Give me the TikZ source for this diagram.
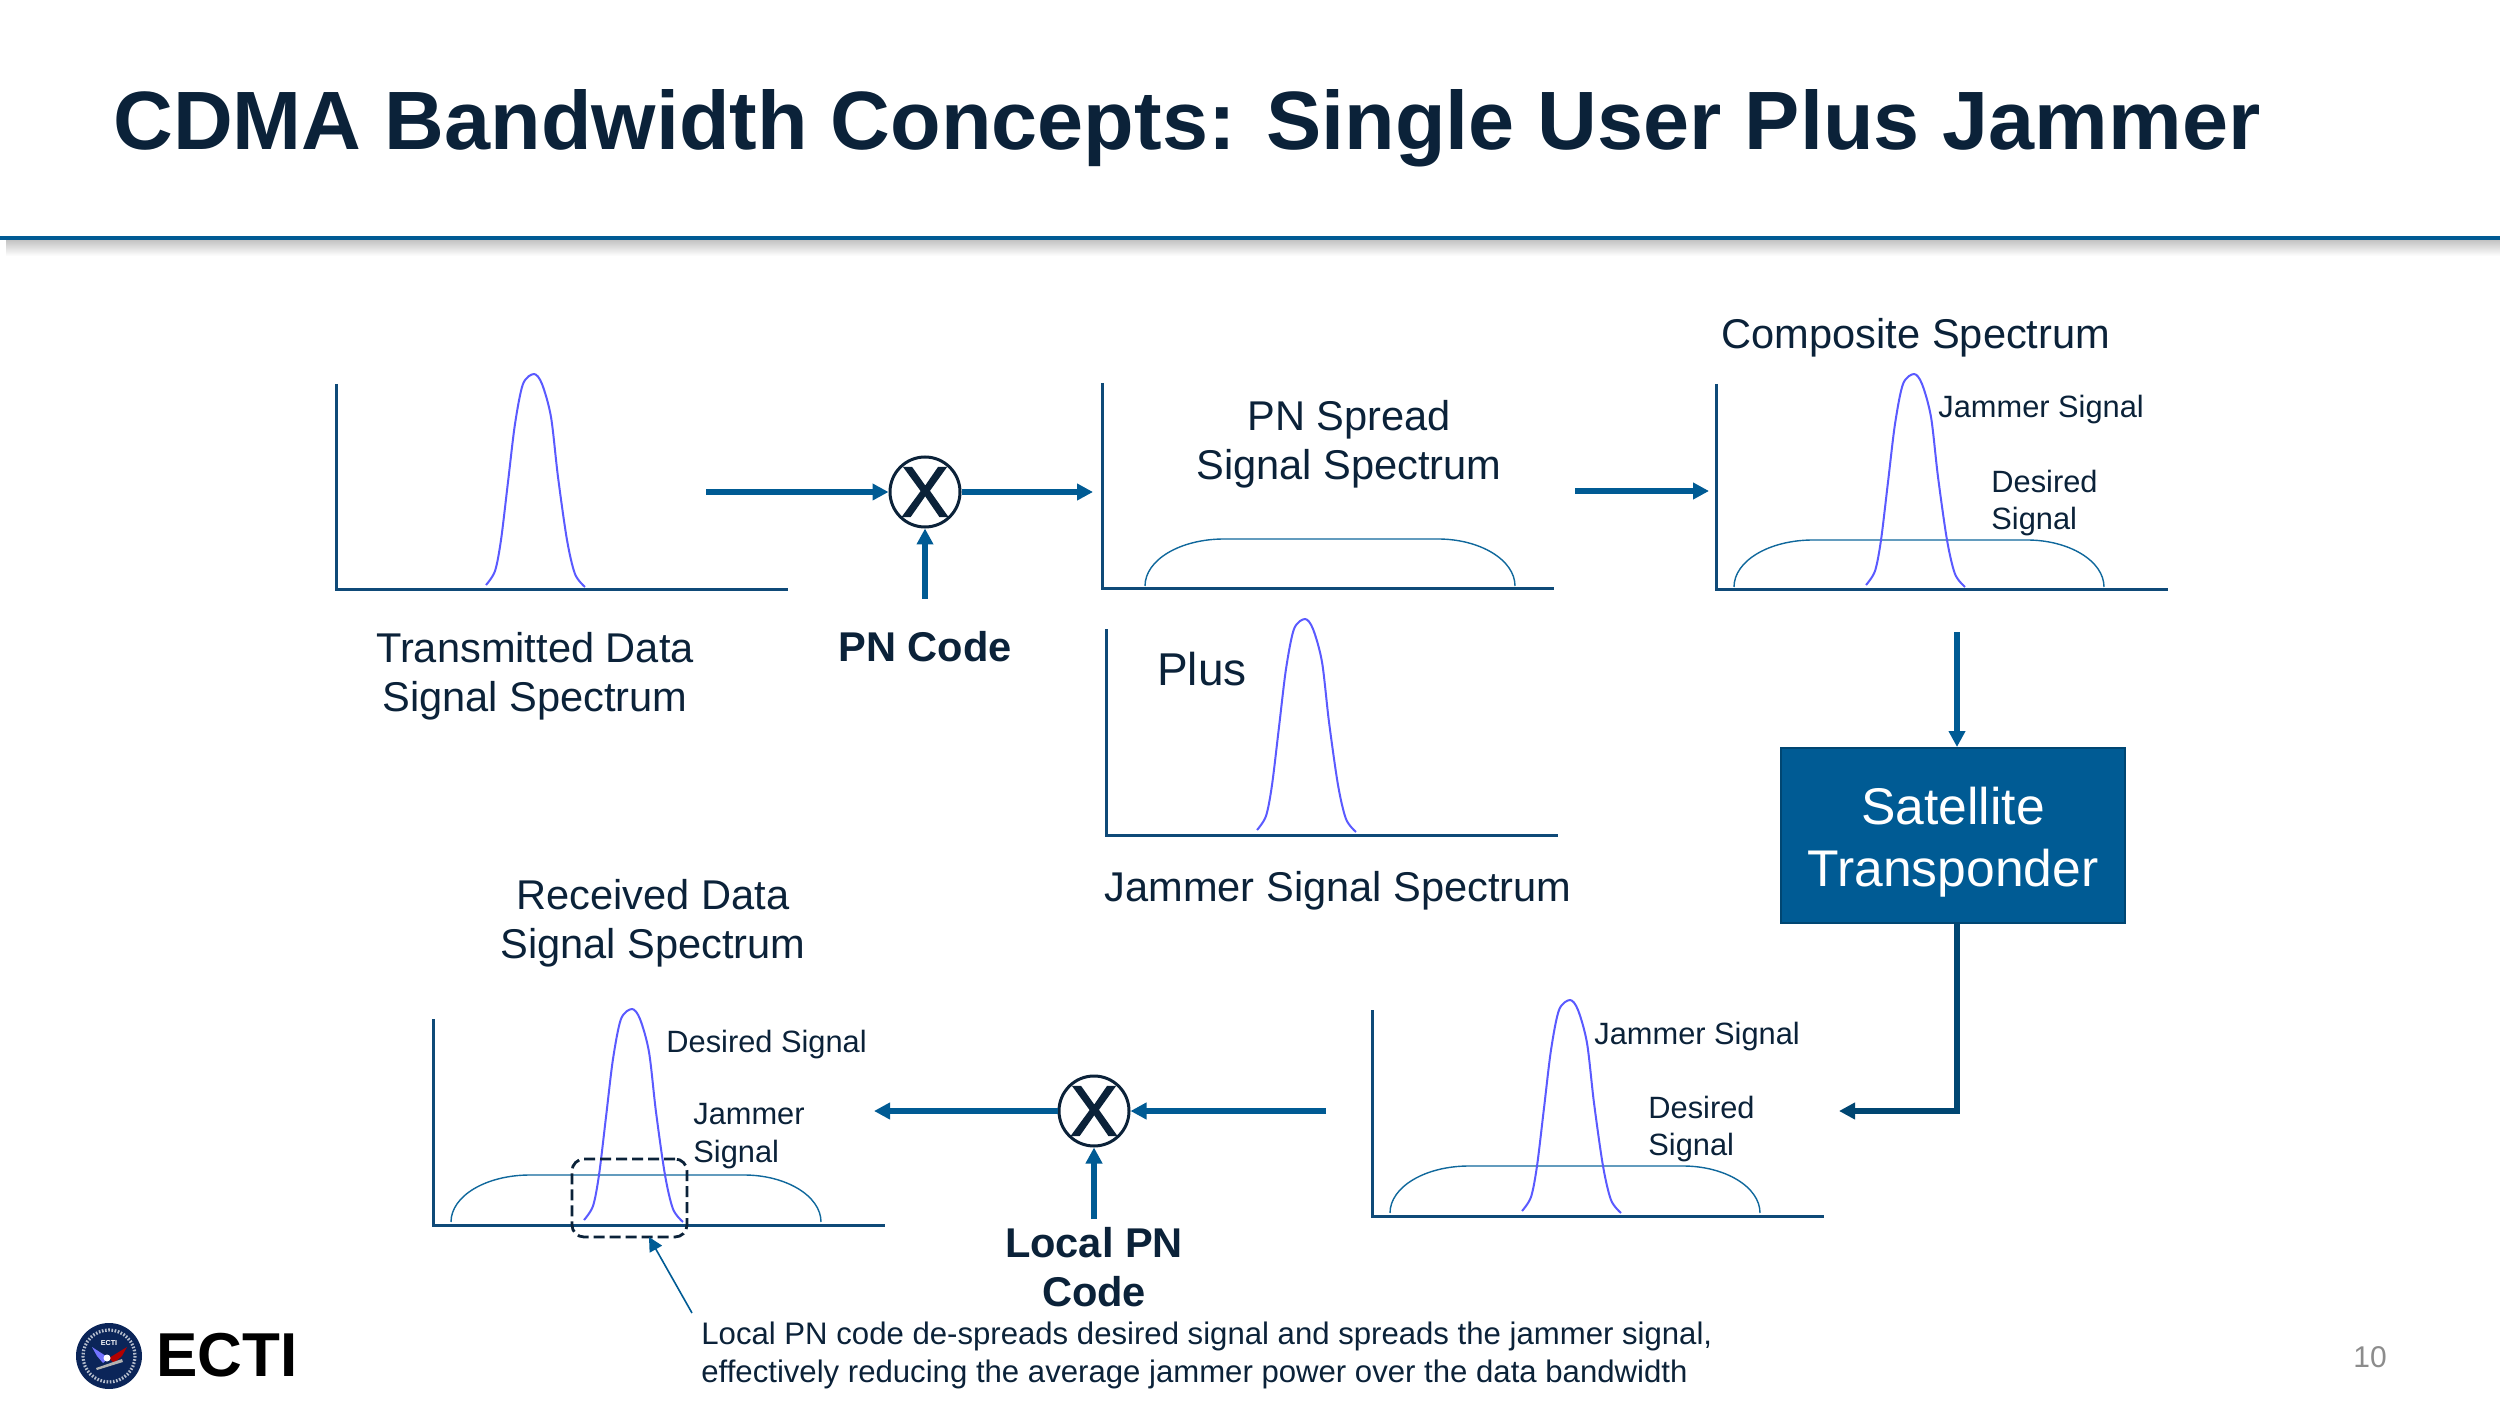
\documentclass[tikz,border=0pt]{standalone}
\usepackage{fontspec}
\setmainfont{Liberation Sans}
\newfontfamily\mixfont[FakeBold=2]{Liberation Sans}
\usetikzlibrary{arrows.meta}
\definecolor{ink}{HTML}{0B2239}
\definecolor{flow}{HTML}{005B94}
\definecolor{flowdark}{HTML}{004672}
\definecolor{axisc}{HTML}{0F4A78}
\definecolor{peakc}{HTML}{5A5AFF}
\definecolor{spreadc}{HTML}{10689C}
\definecolor{pagegrey}{HTML}{8C8C8C}
\definecolor{seal}{HTML}{0B2559}
\tikzset{
  chartaxes/.pic={\draw[axisc,line width=1.5pt,line join=miter] (0,-206) -- (0,0) -- (452,0);},
  peakcurve/.pic={\draw[peakc,line width=1pt,line join=round,tension=0.5] plot[smooth] coordinates {(-48,-5)(-39,-19)(-33,-50)(-26,-108)(-19,-166)(-11,-206)(0,-216)(8,-206)(17,-173)(24,-113)(33,-50)(41,-16)(51,-3)};},
  spreadcurve/.pic={\draw[spreadc,line width=0.7pt] (18,-3) .. controls (18,-29) and (53,-50) .. (97,-50) -- (311,-50) .. controls (353,-50) and (388,-29) .. (388,-3);},
  bigtxt/.style={font=\fontsize{20.8}{24.7}\selectfont,text=ink,align=center,inner sep=0pt},
  bigbold/.style={font=\fontsize{20.8}{24.7}\selectfont\bfseries,text=ink,align=center,inner sep=0pt},
  smalltxt/.style={font=\fontsize{15.4}{18.9}\selectfont,text=ink,align=left,inner sep=0pt,anchor=west},
  mixer/.style={circle,draw=ink,fill=white,line width=1.5pt,minimum size=35pt,inner sep=0pt,text=ink,font=\mixfont\fontsize{35.6}{36}\selectfont},
  flowarrow/.style={draw=flow,line width=2.8pt,-{Triangle[length=8pt,width=8pt,fill=flow]}},
}
\begin{document}
\begin{tikzpicture}[x=0.5pt,y=-0.5pt]
\useasboundingbox (0,0) rectangle (2500,1406);
\fill[white] (0,0) rectangle (2500,1406);
% header
\node[font=\fontsize{41.4}{50}\selectfont\bfseries,text=ink,anchor=west,inner sep=0pt] (title) at (113,128) {CDMA Bandwidth Concepts: Single User Plus Jammer};
\shade[top color=black!22,bottom color=white] (6,241) rectangle (2500,256);
\fill[flow] (0,236) rectangle (2500,240.5);
% charts
\pic at (336,590) {chartaxes};
\pic at (534,590) {peakcurve};
\pic at (1102,589) {chartaxes};
\pic at (1127,589) {spreadcurve};
\pic at (1716,590) {chartaxes};
\pic at (1716,590) {spreadcurve};
\pic at (1914,590) {peakcurve};
\pic at (1106,835) {chartaxes};
\pic at (1305,835) {peakcurve};
\pic at (1372,1216) {chartaxes};
\pic at (1372,1216) {spreadcurve};
\pic at (1570,1216) {peakcurve};
\pic at (433,1225) {chartaxes};
\pic at (433,1225) {spreadcurve};
\pic at (632,1225) {peakcurve};
% dashed region
\node[draw=ink,line width=1.4pt,dash pattern=on 5.5pt off 2.5pt,rounded corners=6pt,minimum width=57.5pt,minimum height=39pt,inner sep=0pt] (region) at (629.5,1198) {};
% mixers
\node[mixer] (mixA) at (925,492) {X};
\node[mixer] (mixB) at (1094,1111) {X};
% transponder
\node[draw=flowdark,fill=flow,line width=1pt,minimum width=172pt,minimum height=87.5pt,inner sep=0pt] (sat) at (1953,835.5) {};
\node[text=white,align=center,inner sep=0pt,font=\fontsize{25.8}{31}\selectfont] (sattxt) at (1953,842) {Satellite\\Transponder};
% flow end points
\coordinate (a1) at (706,492);
\coordinate (a2) at (1093,492);
\coordinate (a3) at (925,599);
\coordinate (a4) at (1575,491);
\coordinate (a5) at (1709,491);
\coordinate (a6) at (1957,632);
\coordinate (a7) at (1957,747);
\coordinate (a8) at (1957,923);
\coordinate (a9) at (1839,1111);
\coordinate (b1) at (1326,1111);
\coordinate (b2) at (874,1111);
\coordinate (b3) at (1094,1219);
\draw[flowarrow] (a1) -- (mixA.west);
\draw[flowarrow] (mixA.east) -- (a2);
\draw[flowarrow] (a3) -- (mixA.south);
\draw[flowarrow] (a4) -- (a5);
\draw[flowarrow] (a6) -- (a7);
\draw[flowarrow,draw=flowdark,-{Triangle[length=8pt,width=8pt,fill=flowdark]},line join=miter] (a8) -- (1957,1111) -- (a9);
\draw[flowarrow] (b1) -- (mixB.east);
\draw[flowarrow] (mixB.west) -- (b2);
\draw[flowarrow] (b3) -- (mixB.south);
% callout
\coordinate (c1) at (692,1313);
\draw[draw=flow,line width=0.8pt,-{Triangle[length=7pt,width=7pt,fill=flow]}] (c1) -- (649,1237);
% labels
\node[bigtxt] (t1) at (535,676) {Transmitted Data\\Signal Spectrum};
\node[bigbold] (t2) at (925,647) {PN Code};
\node[bigtxt] (t3) at (1349,444) {PN Spread\\Signal Spectrum};
\node[bigtxt] (t4) at (1916,338) {Composite Spectrum};
\node[smalltxt] (t5) at (1938,410) {Jammer Signal};
\node[smalltxt] (t6) at (1991,503) {Desired\\Signal};
\node[bigtxt,font=\fontsize{23}{26}\selectfont] (t7) at (1202,669) {Plus};
\node[bigtxt] (t8) at (1338,891) {Jammer Signal Spectrum};
\node[bigtxt] (t9) at (653,923) {Received Data\\Signal Spectrum};
\node[smalltxt] (t10) at (666,1045) {Desired Signal};
\node[smalltxt] (t11) at (693,1136) {Jammer\\Signal};
\node[smalltxt] (t12) at (1594,1037) {Jammer Signal};
\node[smalltxt] (t13) at (1648,1129) {Desired\\Signal};
\node[bigbold] (t14) at (1094,1267) {Local PN\\Code};
\node[smalltxt,font=\fontsize{15.57}{19}\selectfont] (t15) at (701,1355) {Local PN code de-spreads desired signal and spreads the jammer signal,\\effectively reducing the average jammer power over the data bandwidth};
\node[text=pagegrey,font=\fontsize{15}{18}\selectfont,inner sep=0pt] (pg) at (2370,1357) {10};
% logo
\fill[seal] (109,1356) circle (33);
\draw[white!70!seal,line width=1.6pt,dash pattern=on 0.8pt off 0.8pt] (109,1356) circle (26);
\node[text=white,font=\fontsize{3.6}{4}\selectfont\bfseries,inner sep=0pt] (lg) at (109,1343.5) {ECTI};
\fill[blue!55!white] (109,1358) -- (92,1347) -- (97,1356) -- (103,1363) -- cycle;
\fill[red!70!black] (109,1358) -- (127,1347) -- (122,1356) -- (114,1363) -- cycle;
\fill[black!30] (96,1368) -- (122,1359) -- (123,1362) -- (97,1370) -- cycle;
\fill[white] (107,1358) circle (3.5);
\node[text=black,font=\fontsize{31}{32}\selectfont\bfseries,anchor=west,inner sep=0pt] (ecti) at (156,1355) {ECTI};
\end{tikzpicture}
\end{document}
